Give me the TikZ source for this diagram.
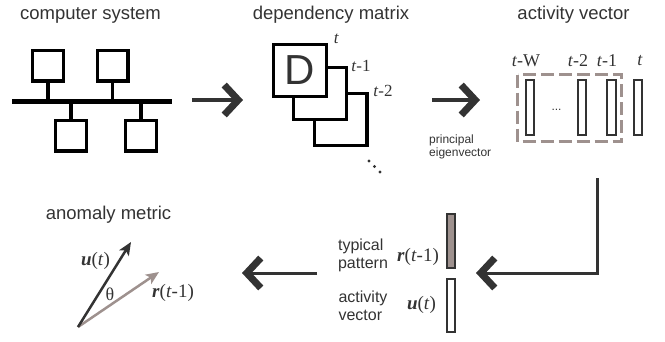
\documentclass[tikz,border=0pt]{standalone}
\usepackage{fontspec}
\setmainfont{Liberation Serif}
\setsansfont{Liberation Sans}
\usetikzlibrary{arrows.meta}
\definecolor{ink}{HTML}{333333}
\definecolor{taupe}{HTML}{9E918E}
\newcommand{\bvec}[1]{\textbf{\textit{#1}}}
\begin{document}
\begin{tikzpicture}[x=1pt,y=-1pt,
  box/.style={draw=black, line width=3.4pt, minimum size=30.6pt, inner sep=0pt, fill=white},
  sheet/.style={draw=black, line width=3.4pt, minimum width=52.6pt, minimum height=51.6pt, inner sep=0pt, fill=white},
  bar/.style={draw=ink, line width=2pt, minimum width=8.5pt, minimum height=55pt, inner sep=0pt, fill=white},
  title/.style={font=\sffamily\fontsize{18.5}{20}\selectfont, text=ink, inner sep=0pt},
  note/.style={font=\sffamily\fontsize{16}{18}\selectfont, text=ink, align=left, inner sep=0pt},
  small/.style={font=\sffamily\fontsize{12}{12.5}\selectfont, text=ink, align=left, inner sep=0pt},
  lab/.style={font=\fontsize{18}{20}\selectfont, text=ink, inner sep=0pt},
  flow/.style={draw=ink, line width=3.5pt, -{Straight Barb[length=14pt, width=30pt, line width=7pt]}},
  vec/.style={line width=2.5pt, -{Stealth[length=13pt, width=11pt, inset=3pt]}},
  tick/.style={draw=black, line width=3.4pt}
]
\useasboundingbox (0,0) rectangle (665,341);

% ---- computer system ----
\node[title] (tcs) at (90.5,15.5) {computer system};
\node[fill=black, minimum width=160pt, minimum height=5.5pt, inner sep=0pt] (bus) at (92,101.5) {};
\node[box] (pc1) at (48,65.5) {};
\node[box] (pc2) at (112.5,65.5) {};
\node[box] (pc3) at (71,135.5) {};
\node[box] (pc4) at (141,135.5) {};
\draw[tick] (pc1.south) -- (pc1.south |- bus.north);
\draw[tick] (pc2.south) -- (pc2.south |- bus.north);
\draw[tick] (pc3.north) -- (pc3.north |- bus.south);
\draw[tick] (pc4.north) -- (pc4.north |- bus.south);

\coordinate (a1s) at (192,100);
\coordinate (a1e) at (243,100);
\draw[flow] (a1s) -- (a1e);

% ---- dependency matrix ----
\node[title] (tdm) at (331,15) {dependency matrix};
\node[sheet] (m2) at (340.5,119.5) {};
\node[sheet] (m1) at (320,93.5) {};
\node[sheet, font=\sffamily\fontsize{42}{42}\selectfont, text=ink] (m0) at (300,70.5) {D};
\node[lab, font=\fontsize{17}{18}\selectfont] (l0) at (336.5,39) {\textit{t}};
\node[lab, font=\fontsize{17}{18}\selectfont] (l1) at (361,66) {\textit{t}-1};
\node[lab, font=\fontsize{17}{18}\selectfont] (l2) at (383,91) {\textit{t}-2};
\fill[ink] (369,161) circle (1.6pt) (374.5,166.5) circle (1.6pt) (380,172) circle (1.6pt);

\coordinate (a2s) at (432,100);
\coordinate (a2e) at (480,100);
\draw[flow] (a2s) -- (a2e);
\node[small, anchor=west] (pe) at (429,147) {principal\\eigenvector};

% ---- activity vector ----
\node[title] (tav) at (573.5,15) {activity vector};
\draw[taupe, line width=3pt, dash pattern=on 13pt off 5pt] (517.5,74.5) rectangle (621.5,141.5);
\node[bar] (v0) at (530,107.5) {};
\node[bar] (v1) at (582,107.5) {};
\node[bar] (v2) at (611.5,107.5) {};
\node[bar] (v3) at (638,107.5) {};
\node[lab] (lw) at (526,61) {\textit{t}-W};
\node[lab] (l22) at (578,61) {\textit{t}-2};
\node[lab] (l21) at (607,61) {\textit{t}-1};
\node[lab] (l20) at (640,61) {\textit{t}};
\node[font=\sffamily\fontsize{12}{12}\selectfont, text=ink, inner sep=0pt, anchor=base] (dots) at (556.5,110.5) {...};

\coordinate (a3s) at (597,178);
\coordinate (a3e) at (476,273);
\draw[flow, line width=3pt] (a3s) |- (a3e);

% ---- pattern and current vector ----
\node[bar, fill=taupe, minimum height=54pt] (rb) at (451,241) {};
\node[bar, minimum height=53pt] (ub) at (451,305.5) {};
\node[note] (tp) at (363,255) {typical\\pattern};
\node[note] (ta) at (363,306) {activity\\vector};
\node[lab, font=\fontsize{19}{20}\selectfont] (rl) at (418,257) {\bvec{r}(\textit{t}-1)};
\node[lab, font=\fontsize{19}{20}\selectfont] (ul) at (421.5,305) {\bvec{u}(\textit{t})};

\coordinate (a4s) at (317,273);
\coordinate (a4e) at (242,273);
\draw[flow, line width=3pt] (a4s) -- (a4e);

% ---- anomaly metric ----
\node[title] (tam) at (108.5,215) {anomaly metric};
\coordinate (o) at (78,327);
\coordinate (ut) at (131,242);
\coordinate (rt) at (159,272);
\draw[vec, taupe] (o) -- (rt);
\draw[vec, ink] (o) -- (ut);
\node[lab, font=\fontsize{19}{20}\selectfont] (uu) at (95.5,261) {\bvec{u}(\textit{t})};
\node[lab] (th) at (110,294) {θ};
\node[lab, font=\fontsize{19}{20}\selectfont] (rr) at (173,293) {\bvec{r}(\textit{t}-1)};
\end{tikzpicture}
\end{document}
